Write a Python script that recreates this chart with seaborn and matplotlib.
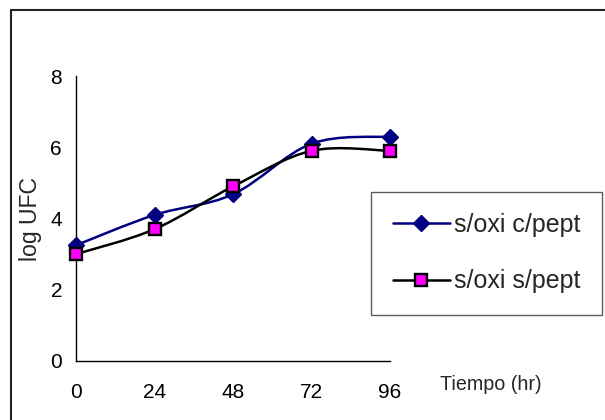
import numpy as np
import pandas as pd
import matplotlib
matplotlib.use("Agg")
import matplotlib.pyplot as plt
from matplotlib.path import Path
from matplotlib.patches import PathPatch
from matplotlib.lines import Line2D
import seaborn as sns

# ---- data ----
hours = [0, 24, 48, 72, 96]
series_names = ["s/oxi c/pept", "s/oxi s/pept"]
log_ufc_c_pept = [3.25, 4.1, 4.68, 6.1, 6.3]
log_ufc_s_pept = [3.0, 3.7, 4.9, 5.9, 5.9]
y_ticks = [0, 2, 4, 6, 8]
x_label = "Tiempo (hr)"
y_label = "log UFC"

sns.set_style("white")
plt.rcParams["font.family"] = ["Liberation Sans", "DejaVu Sans"]

df = pd.DataFrame({
    "hours": hours * 2,
    "value": log_ufc_c_pept + log_ufc_s_pept,
    "series": [series_names[0]] * len(hours) + [series_names[1]] * len(hours),
})

fig = plt.figure(figsize=(6.05, 4.2), dpi=100)
ax = fig.add_axes([76 / 605, 1 - 361 / 420, (390 - 76) / 605, (361 - 76) / 420])

styles = {
    series_names[0]: dict(color="#000080", marker="D", ms=7.8, mfc="#000080", mec="#000080", mew=1.0),
    series_names[1]: dict(color="#000000", marker="s", ms=8.6, mfc="#FF00FF", mec="#000000", mew=1.7),
}


def smooth_path(xs, ys):
    pts = np.column_stack([xs, ys]).astype(float)
    n = len(pts)
    verts = [pts[0]]
    codes = [Path.MOVETO]
    for i in range(n - 1):
        p0 = pts[i - 1] if i > 0 else pts[i]
        p1 = pts[i]
        p2 = pts[i + 1]
        p3 = pts[i + 2] if i + 2 < n else pts[i + 1]
        c1 = p1 + (p2 - p0) / 6.0
        c2 = p2 - (p3 - p1) / 6.0
        verts += [c1, c2, p2]
        codes += [Path.CURVE4] * 3
    return Path(verts, codes)


for name in series_names:
    sub = df[df["series"] == name]
    st = styles[name]
    patch = PathPatch(smooth_path(sub["hours"].values, sub["value"].values),
                      facecolor="none", edgecolor=st["color"], lw=1.8,
                      transform=ax.transData, zorder=2, clip_on=False)
    ax.add_patch(patch)
    sns.lineplot(data=sub, x="hours", y="value", ax=ax, linestyle="",
                 marker=st["marker"], markersize=st["ms"],
                 markerfacecolor=st["mfc"], markeredgecolor=st["mec"],
                 markeredgewidth=st["mew"], color=st["color"], zorder=3,
                 clip_on=False, legend=False)

ax.set_xlim(0, 96)
ax.set_ylim(0, 8)
ax.set_xticks(hours)
ax.set_yticks(y_ticks)
ax.set_xlabel("")
ax.set_ylabel("")
for s in ["top", "right"]:
    ax.spines[s].set_visible(False)
for s in ["left", "bottom"]:
    ax.spines[s].set_color("black")
    ax.spines[s].set_linewidth(1.0)
ax.tick_params(axis="both", direction="out", length=5, width=1, color="black",
               labelsize=15, labelcolor="black")
ax.tick_params(axis="x", pad=11)
ax.tick_params(axis="y", pad=5)

fig.text(491 / 605, 1 - 385 / 420, x_label, fontsize=14.2, ha="center", va="center")
fig.text(30 / 605, 1 - 219 / 420, y_label, fontsize=16.6, ha="center", va="center",
         rotation=90)

handles = []
for name in series_names:
    st = styles[name]
    handles.append(Line2D([], [], color=st["color"], lw=1.8, marker=st["marker"],
                          ms=st["ms"], mfc=st["mfc"], mec=st["mec"], mew=st["mew"]))
leg = fig.legend(handles, series_names, loc="center",
                 bbox_to_anchor=(486.5 / 605, 1 - 253 / 420),
                 fontsize=18, frameon=True, fancybox=False, handlelength=2.3,
                 handletextpad=0.15, labelspacing=1.3, borderpad=0.85,
                 borderaxespad=0)
leg.get_frame().set_edgecolor("#333333")
leg.get_frame().set_linewidth(1.0)

# outer chart-area border (top and left visible)
fig.add_artist(Line2D([11 / 605, 11 / 605], [0, 1 - 10 / 420], transform=fig.transFigure,
                      color="#222222", lw=1.5))
fig.add_artist(Line2D([11 / 605, 1], [1 - 10 / 420, 1 - 10 / 420], transform=fig.transFigure,
                      color="#222222", lw=1.5))

fig.savefig("out.png", dpi=100, facecolor="white")
